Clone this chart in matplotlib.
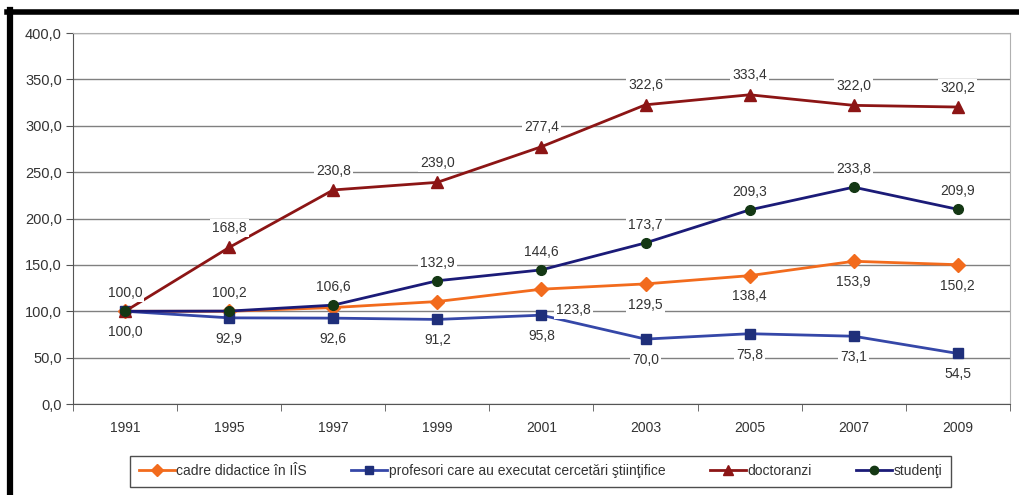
import numpy as np
import matplotlib
matplotlib.use("Agg")
import matplotlib.pyplot as plt
from matplotlib.lines import Line2D

plt.rcParams['font.family'] = ['Liberation Sans', 'DejaVu Sans']

years = ['1991', '1995', '1997', '1999', '2001', '2003', '2005', '2007', '2009']
cadre = [100.0, 100.0, 104.0, 110.5, 123.8, 129.5, 138.4, 153.9, 150.2]
profesori = [100.0, 92.9, 92.6, 91.2, 95.8, 70.0, 75.8, 73.1, 54.5]
doctoranzi = [100.0, 168.8, 230.8, 239.0, 277.4, 322.6, 333.4, 322.0, 320.2]
studenti = [100.0, 100.2, 106.6, 132.9, 144.6, 173.7, 209.3, 233.8, 209.9]

series_names = ['cadre didactice în IÎS', 'profesori care au executat cercetări ştiinţifice',
                'doctoranzi', 'studenţi']


def fmt(v):
    return ('%.1f' % v).replace('.', ',')


fig = plt.figure(figsize=(10.2, 4.95), dpi=100)
ax = fig.add_axes([0.0716, 0.1838, 0.9184, 0.7495])
x = np.arange(len(years))

ax.plot(x, cadre, color='#f26b1d', lw=2, marker='D', ms=7.5, mfc='#f26b1d', mec='#f26b1d', zorder=3)
ax.plot(x, profesori, color='#3547a8', lw=2, marker='s', ms=7, mfc='#1f2f7a', mec='#1f2f7a', zorder=3)
ax.plot(x, doctoranzi, color='#8c1515', lw=2, marker='^', ms=8, mfc='#8c1515', mec='#8c1515', zorder=3)
ax.plot(x, studenti, color='#1b1b78', lw=2, marker='o', ms=7, mfc='#143814', mec='#143814', zorder=4)

box = dict(boxstyle='square,pad=0.15', fc='white', ec='none')


def label(i, v, dy, dx=0):
    ax.annotate(fmt(v), (x[i], v), xytext=(dx, dy), textcoords='offset points',
                ha='center', va='center', fontsize=10, color='#333333',
                bbox=box, zorder=5)


for i in range(1, len(years)):
    label(i, doctoranzi[i], 14)
for i in range(len(years)):
    label(i, studenti[i], 13)
    label(i, profesori[i], -15)
for i in range(4, len(years)):
    label(i, cadre[i], -15, 23 if i == 4 else 0)

ax.set_xlim(-0.5, len(years) - 0.5)
ax.set_ylim(0, 400)
ax.set_yticks(np.arange(0, 401, 50))
ax.set_yticklabels([fmt(v) for v in np.arange(0, 401, 50)])
ax.set_xticks(x)
ax.set_xticklabels(years)
ax.set_xticks(np.arange(-0.5, len(years), 1), minor=True)
ax.tick_params(axis='x', which='major', length=0, pad=12, labelsize=10, colors='#333333')
ax.tick_params(axis='x', which='minor', length=5, color='#555555')
ax.tick_params(axis='y', length=5, color='#555555', labelsize=10.5, labelcolor='#333333', pad=3)
ax.yaxis.grid(True, color='#808080', lw=1)
ax.set_axisbelow(True)
for s in ['top', 'right']:
    ax.spines[s].set_color('#b0b0b0')
ax.spines['left'].set_color('#555555')
ax.spines['bottom'].set_color('#555555')

handles = [
    Line2D([], [], color='#f26b1d', lw=2, marker='D', ms=6, mfc='#f26b1d', mec='#f26b1d'),
    Line2D([], [], color='#3547a8', lw=2, marker='s', ms=6, mfc='#1f2f7a', mec='#1f2f7a'),
    Line2D([], [], color='#8c1515', lw=2, marker='^', ms=7, mfc='#8c1515', mec='#8c1515'),
    Line2D([], [], color='#1b1b78', lw=2, marker='o', ms=6, mfc='#143814', mec='#143814'),
]
leg = fig.legend(handles, series_names, loc='center', bbox_to_anchor=(0.530, 0.048), ncol=4,
                 fontsize=10, frameon=True, fancybox=False, edgecolor='#222222',
                 handlelength=2.6, handletextpad=0.1, columnspacing=3.2, borderpad=0.6)
leg.get_frame().set_linewidth(1)
for t in leg.get_texts():
    t.set_color('#333333')

# thick black frame on top and left
fig.add_artist(Line2D([0.007, 1.0], [0.975, 0.975], color='black', lw=4, transform=fig.transFigure))
fig.add_artist(Line2D([0.0098, 0.0098], [0.0, 0.979], color='black', lw=4.5, transform=fig.transFigure))

fig.savefig('out.png', dpi=100)
